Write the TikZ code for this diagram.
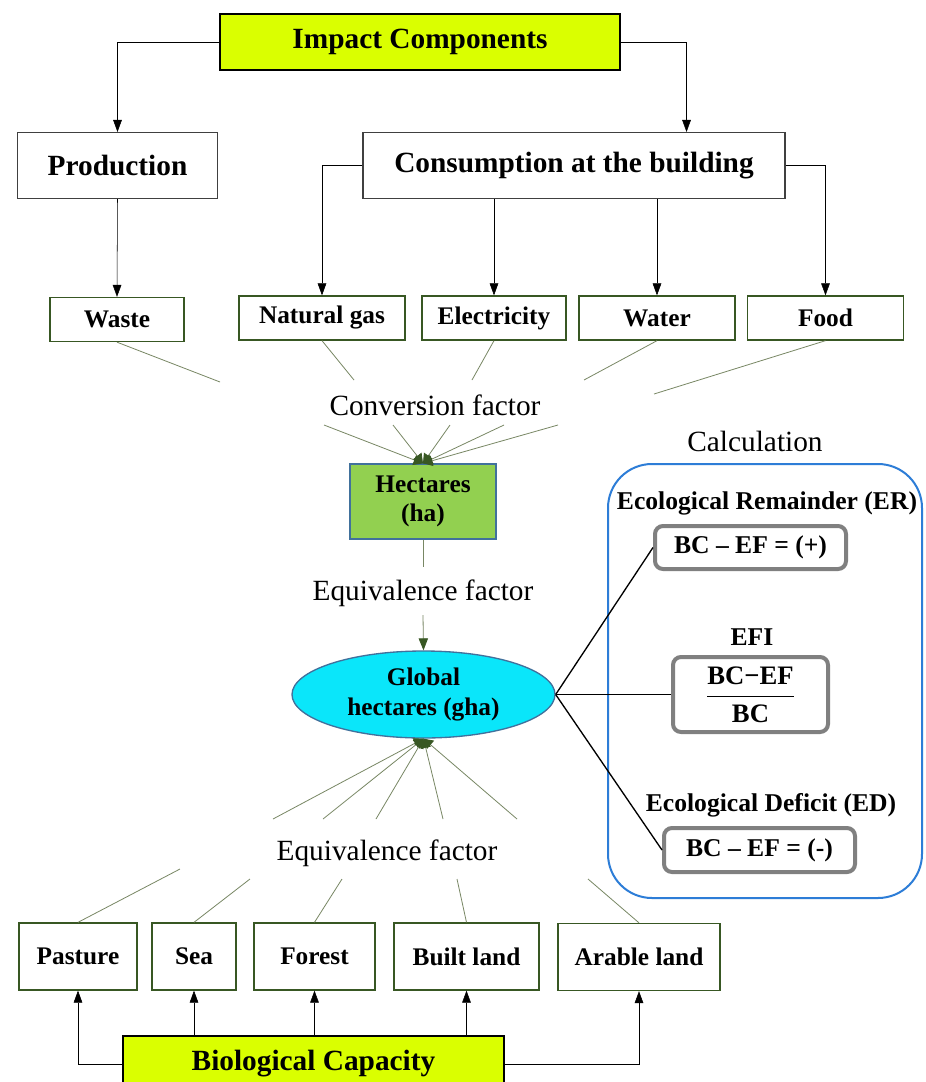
\documentclass[tikz,border=0pt]{standalone}
\usepackage{fontspec}
\setmainfont{Liberation Serif}
\usetikzlibrary{arrows.meta,shapes.geometric}
\definecolor{limefill}{RGB}{218,255,0}
\definecolor{hectgreen}{RGB}{146,208,80}
\definecolor{ghacyan}{RGB}{10,230,250}
\definecolor{edgeblue}{RGB}{65,113,156}
\definecolor{calcblue}{RGB}{45,125,215}
\definecolor{formgray}{RGB}{128,128,128}
\definecolor{boxgreen}{RGB}{56,87,35}
\definecolor{boxgray}{RGB}{64,64,64}
\definecolor{fangreen}{RGB}{120,135,100}
\definecolor{tipgreen}{RGB}{56,87,35}

\begin{document}
\begin{tikzpicture}[x=0.75pt, y=-0.75pt, >={Triangle[width=6.5pt,length=9pt]},
headbox/.style={draw=black, line width=1.2pt, fill=limefill, inner sep=0pt, minimum width=300pt, minimum height=42pt, font=\bfseries\fontsize{22}{26}\selectfont},
groupbox/.style={draw=boxgray, line width=0.8pt, inner sep=0pt, minimum height=49.5pt, font=\bfseries\fontsize{22}{26}\selectfont},
itembox/.style={draw=boxgreen, line width=1pt, inner sep=0pt, minimum height=33pt, font=\bfseries\fontsize{19}{22}\selectfont},
landbox/.style={itembox, minimum height=50.25pt},
factor/.style={inner sep=0pt, font=\fontsize{22}{26}\selectfont},
calclabel/.style={inner sep=0pt, font=\bfseries\fontsize{19.2}{22}\selectfont},
formula/.style={draw=formgray, line width=3pt, rounded corners=6pt, inner sep=0pt, font=\bfseries\fontsize{19.2}{22}\selectfont},
fan/.style={color=fangreen, line width=0.6pt},
fanarrow/.style={fan, -{Triangle[width=8pt,length=7pt,color=tipgreen]}}]
    \fill[white] (0,0) rectangle (925,1082);
    \useasboundingbox (0,0) rectangle (925,1082);

    % impact side
    \node[headbox] (impact) at (420,42) {\raisebox{-2pt}{Impact Components}};
    \node[groupbox, minimum width=150pt] (prod) at (117.5,165.5) {Production};
    \node[groupbox, minimum width=316.5pt] (cons) at (574,165.5) {\raisebox{-2pt}{Consumption at the building}};
    \node[itembox, minimum width=100.5pt] (waste) at (117,319.5) {Waste};
    \node[itembox, minimum width=124.5pt] (gas) at (322,318) {\raisebox{-1.5pt}{Natural gas}};
    \node[itembox, minimum width=108pt] (elec) at (494,318) {\raisebox{-1.5pt}{Electricity}};
    \node[itembox, minimum width=117pt] (water) at (657,318) {Water};
    \node[itembox, minimum width=117pt] (food) at (825.5,318) {Food};
    \draw[->] (impact.west) -| (prod.north);
    \draw[->] (impact.east) -| ([xshift=-74.25pt]cons.north east);
    \draw[->] (prod.south) -- (waste.north);
    \draw[->] (cons.west) -| (gas.north);
    \draw[->] (cons.south -| elec.north) -- (elec.north);
    \draw[->] (cons.south -| water.north) -- (water.north);
    \draw[->] (cons.east) -| (food.north);

    % conversion to hectares
    \node[factor] (conv) at (435,405) {Conversion factor};
    \node[draw=edgeblue, line width=1pt, fill=hectgreen, minimum width=109.5pt, minimum height=56.25pt, inner sep=0pt, align=center, font=\bfseries\fontsize{19}{21.75}\selectfont] (hect) at (423,501.5) {Hectares\\(ha)};
    \coordinate (cu1) at (220,382);
    \coordinate (cu2) at (354,380);
    \coordinate (cu3) at (472,380);
    \coordinate (cu4) at (584,380);
    \coordinate (cu5) at (654,394);
    \coordinate (cd1) at (324,425);
    \coordinate (cd2) at (393,425);
    \coordinate (cd3) at (450,425);
    \coordinate (cd4) at (504,425);
    \coordinate (cd5) at (558,425);
    \path[fan]
        (waste.south) edge (cu1)
        (gas.south) edge (cu2)
        (elec.south) edge (cu3)
        (water.south) edge (cu4)
        (food.south) edge (cu5);
    \path[fanarrow]
        (cd1) edge (hect.north)
        (cd2) edge (hect.north)
        (cd3) edge (hect.north)
        (cd4) edge (hect.north)
        (cd5) edge (hect.north);

    % global hectares
    \node[factor] (eqmid) at (423,593) {Equivalence factor};
    \node[ellipse, draw=edgeblue, line width=1pt, fill=ghacyan, minimum width=197.25pt, minimum height=65.25pt, inner sep=0pt, align=center, font=\bfseries\fontsize{19}{22.5}\selectfont] (gha) at (423.5,694.5) {Global\\hectares (gha)};
    \coordinate (mu) at (423,567);
    \coordinate (md) at (423,615);
    \draw[fan] (hect.south) -- (mu);
    \draw[fan, -{Triangle[width=7pt,length=9pt,color=tipgreen]}] (md) -- (gha.north);

    % biological capacity side
    \node[factor] (eqlow) at (387,853) {Equivalence factor};
    \node[landbox, minimum width=88.5pt] (pasture) at (78,956.5) {Pasture};
    \node[landbox, minimum width=63pt] (sea) at (194,956.5) {Sea};
    \node[landbox, minimum width=90.75pt] (forest) at (314.5,956.5) {Forest};
    \node[landbox, minimum width=108.75pt] (built) at (466.5,956.5) {Built land};
    \node[landbox, minimum width=121.5pt] (arable) at (639,957) {Arable land};
    \node[headbox, minimum width=285.75pt] (bio) at (313.5,1064) {Biological Capacity};
    \draw[->] (bio.west) -| (pasture.south);
    \draw[->] (bio.north -| sea.south) -- (sea.south);
    \draw[->] (bio.north -| forest.south) -- (forest.south);
    \draw[->] (bio.north -| built.south) -- (built.south);
    \draw[->] (bio.east) -| (arable.south);
    \coordinate (bu1) at (180,869);
    \coordinate (bu2) at (250,879);
    \coordinate (bu3) at (342,879);
    \coordinate (bu4) at (457,879);
    \coordinate (bu5) at (588,879);
    \coordinate (bd1) at (273,819);
    \coordinate (bd2) at (323,819);
    \coordinate (bd3) at (376,819);
    \coordinate (bd4) at (443,819);
    \coordinate (bd5) at (517,819);
    \path[fan]
        (pasture.north) edge (bu1)
        (sea.north) edge (bu2)
        (forest.north) edge (bu3)
        (built.north) edge (bu4)
        (arable.north) edge (bu5);
    \path[fanarrow]
        (bd1) edge (gha.south)
        (bd2) edge (gha.south)
        (bd3) edge (gha.south)
        (bd4) edge (gha.south)
        (bd5) edge (gha.south);

    % calculation panel
    \node[factor] (calc) at (755,441) {Calculation};
    \node[draw=calcblue, line width=1.5pt, rounded corners=33pt, minimum width=235.5pt, minimum height=325.5pt] (panel) at (765,681) {};
    \node[calclabel] (erlabel) at (767,503) {Ecological Remainder (ER)};
    \node[formula, minimum width=143.25pt, minimum height=32.25pt] (er) at (750.5,547.5) {BC – EF = (+)};
    \node[calclabel] (efilabel) at (752,637) {EFI};
    \node[formula, minimum width=116.25pt, minimum height=56.25pt, font=\bfseries\fontsize{20}{22}\selectfont] (efi) at (750.5,694.5) {$\displaystyle\frac{\textbf{BC−EF}}{\textbf{BC}}$};
    \node[calclabel] (edlabel) at (771,805) {Ecological Deficit (ED)};
    \node[formula, minimum width=143.25pt, minimum height=33pt] (ed) at (759.5,850) {BC – EF = (-)};
    \draw[line width=1pt] (gha.east) -- (er.west);
    \draw[line width=1pt] (gha.east) -- (efi.west);
    \draw[line width=1pt] (gha.east) -- (ed.west);
\end{tikzpicture}
\end{document}
